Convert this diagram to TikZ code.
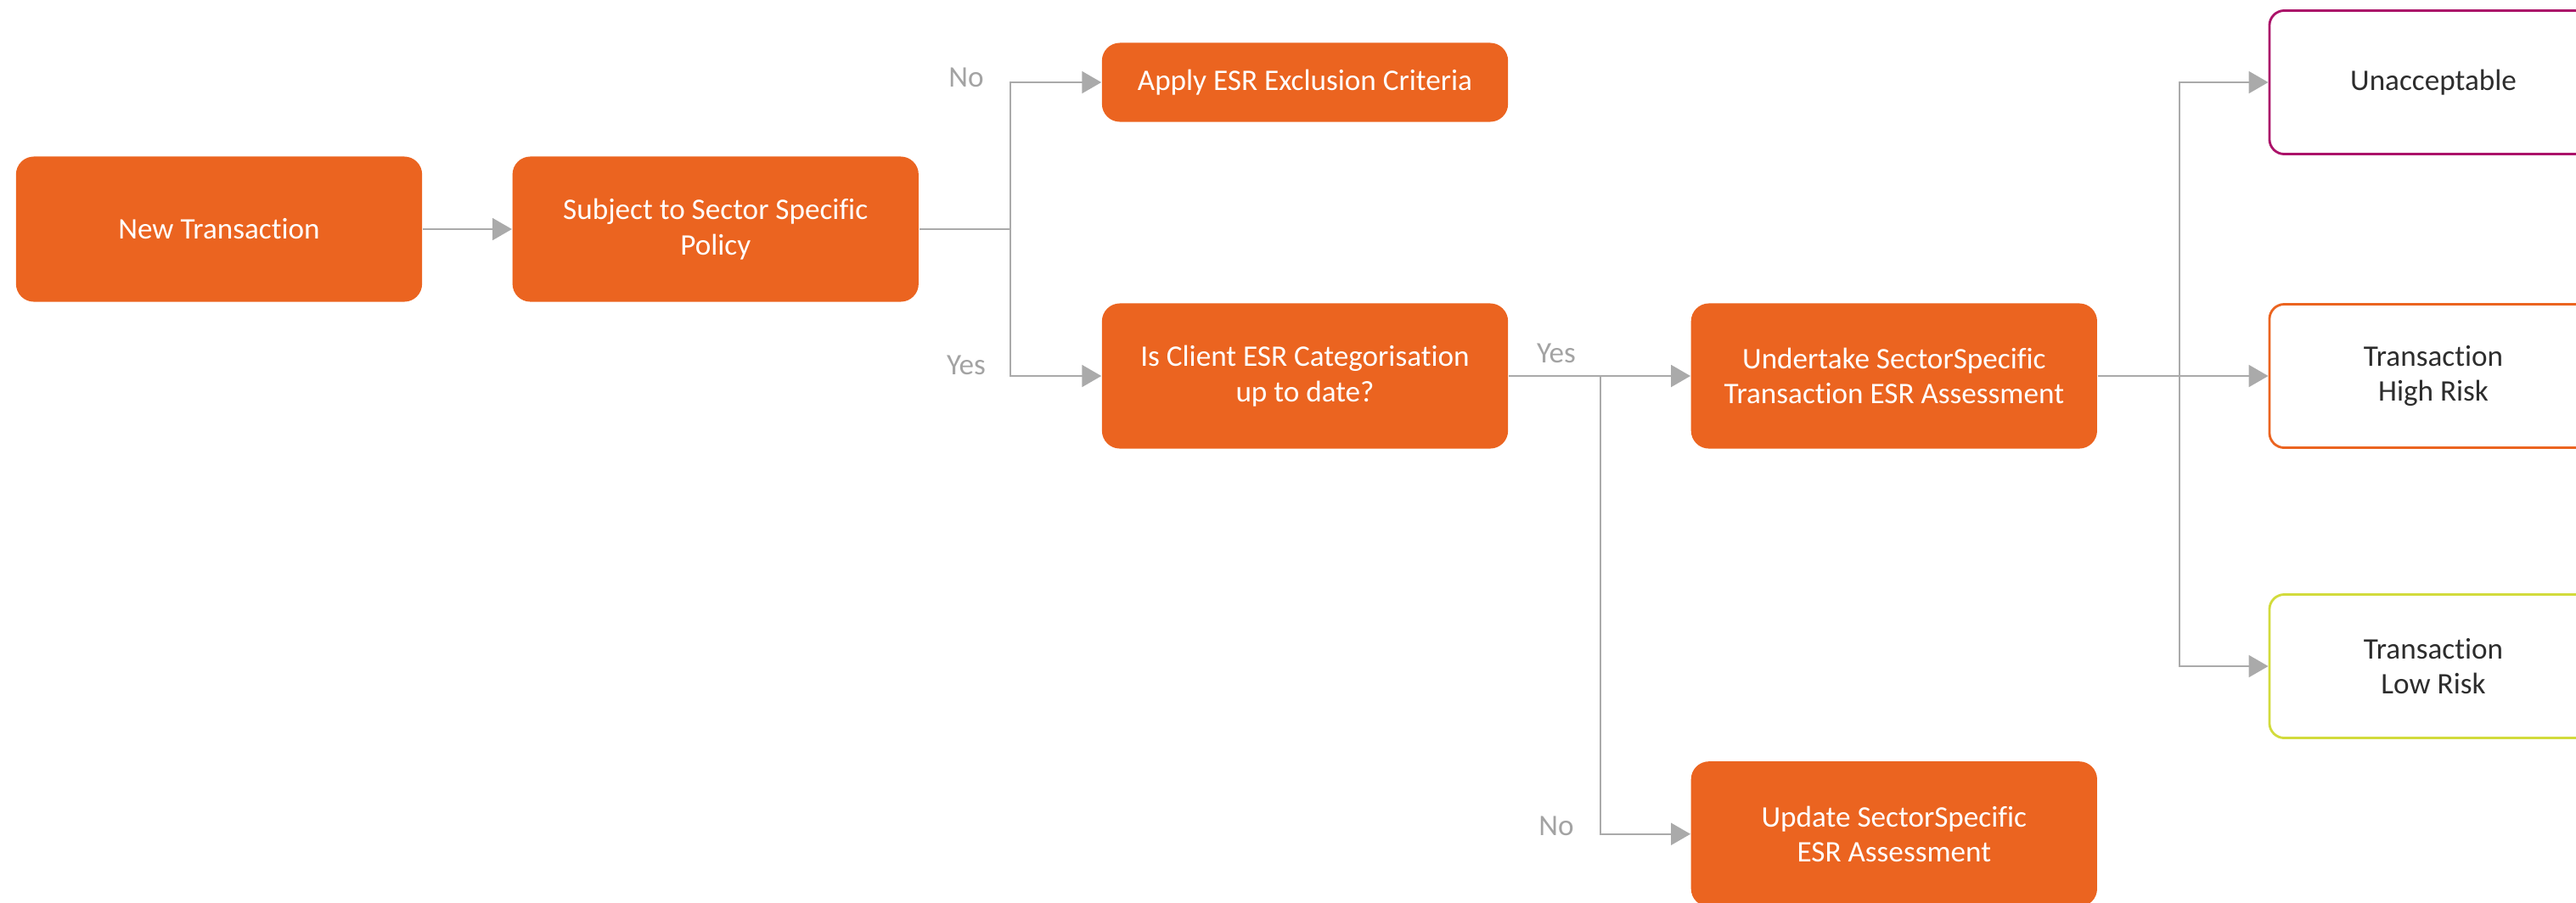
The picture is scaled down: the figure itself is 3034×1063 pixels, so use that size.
\documentclass[tikz,border=0pt]{standalone}
\usepackage{fontspec}
\setmainfont{Carlito}[Ligatures=NoCommon]
\usetikzlibrary{positioning,arrows.meta}
\definecolor{ingorange}{HTML}{EB6420}
\definecolor{linegray}{HTML}{AAAAAA}
\definecolor{labelgray}{HTML}{A3A3A3}
\definecolor{inktext}{HTML}{2D2D2D}
\definecolor{riskred}{HTML}{AB1269}
\definecolor{riskorange}{HTML}{EB6420}
\definecolor{risklime}{HTML}{D2DB3C}

\begin{document}
\begin{tikzpicture}[x=0.01cm, y=-0.01cm, font=\fontsize{10}{11.8}\selectfont]
                \tikzstyle{procbox} = [rectangle, rounded corners=6pt, minimum width=4.78cm, minimum height=1.71cm, inner sep=0pt, align=center, fill=ingorange, text=white]
                \tikzstyle{riskbox} = [rectangle, rounded corners=5pt, minimum width=3.86cm, minimum height=1.69cm, inner sep=0pt, align=center, fill=white, line width=0.8pt, text=inktext]
                \tikzstyle{arrow} = [draw=linegray, line width=0.45pt, -{Triangle[length=6.5pt,width=7.4pt]}]
                \tikzstyle{line} = [draw=linegray, line width=0.45pt]
                \tikzstyle{answer} = [text=labelgray, inner sep=0pt]
                \useasboundingbox (0,0) rectangle (3034,1063);

                \node (trans) [procbox] at (258,270) {New Transaction};
                \node (sector) [procbox, right=1.05cm of trans] {Subject to Sector Specific\\Policy};
                \node (excl) [procbox, minimum height=0.93cm] at (1537,97) {Apply ESR Exclusion Criteria};
                \node (categ) [procbox] at (1537,443) {Is Client ESR Categorisation\\up to date?};
                \node (undertake) [procbox, right=2.14cm of categ] {Undertake SectorSpecific\\Transaction ESR Assessment};
                \node (update) [procbox, below=3.67cm of undertake] {Update SectorSpecific\\ESR Assessment};

                \node (unacc) [riskbox, draw=riskred] at (2866,97) {Unacceptable};
                \node (high) [riskbox, draw=riskorange] at (2866,443) {Transaction\\High Risk};
                \node (low) [riskbox, draw=risklime] at (2866,785) {Transaction\\Low Risk};

                \coordinate (policysplit) at (1190,270);
                \coordinate (categsplit) at (1885,443);
                \coordinate (risksplit) at (2567,443);

                \node (policyno) [answer] at (1138,91) {No};
                \node (policyyes) [answer] at (1138,430) {Yes};
                \node (categyes) [answer] at (1833,416) {Yes};
                \node (categno) [answer] at (1833,973) {No};

                \draw [arrow] (trans) -- (sector);
                \draw [line] (sector) -- (policysplit);
                \draw [arrow] (policysplit) |- (excl);
                \draw [arrow] (policysplit) |- (categ);
                \draw [arrow] (categ) -- (undertake);
                \draw [arrow] (categsplit) |- (update);
                \draw [arrow] (undertake) -- (high);
                \draw [arrow] (risksplit) |- (unacc);
                \draw [arrow] (risksplit) |- (low);
            \end{tikzpicture}
\end{document}
